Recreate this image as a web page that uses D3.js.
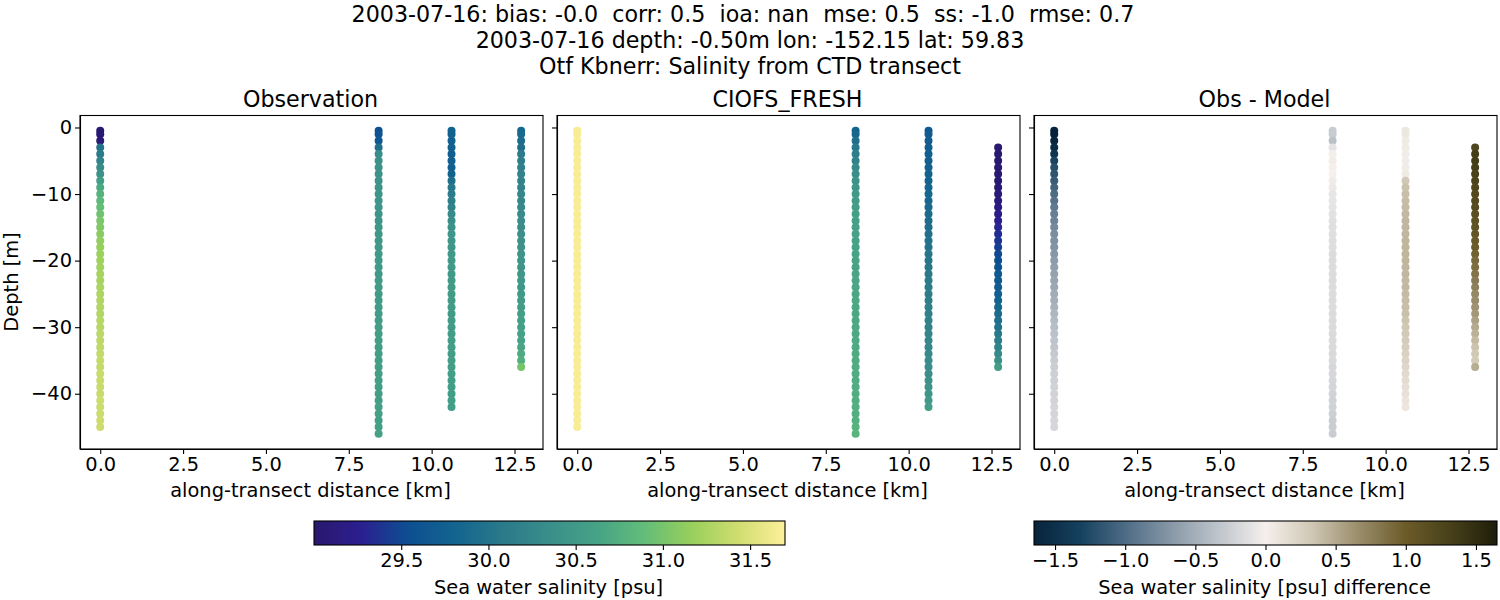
<!DOCTYPE html>
<html>
<head>
<meta charset="utf-8">
<script src="https://cdn.jsdelivr.net/npm/d3@7"></script>
<style>
  html, body { margin: 0; padding: 0; background: #fff; }
  svg text { font-family: "DejaVu Sans", sans-serif; fill: #000; white-space: pre; }
  .domain, .tick line { stroke: #000; stroke-width: 1.1px; }
</style>
</head>
<body>
<svg id="chart" width="1500" height="600"></svg>
<script>
// ============================================
// DATA
// ============================================

const titleLines = [
  '2003-07-16: bias: -0.0  corr: 0.5  ioa: nan  mse: 0.5  ss: -1.0  rmse: 0.7  ',
  '2003-07-16 depth: -0.50m lon: -152.15 lat: 59.83',
  'Otf Kbnerr: Salinity from CTD transect'
];
const panelTitles = ['Observation', 'CIOFS_FRESH', 'Obs - Model'];

const castDistances = [0, 8.4, 10.6, 12.7];
const depthLevels = [-0.5, -1, -2, -3, -4, -5, -6, -7, -8, -9, -10, -11, -12, -13, -14, -15, -16,
  -17, -18, -19, -20, -21, -22, -23, -24, -25, -26, -27, -28, -29, -30, -31, -32, -33, -34, -35,
  -36, -37, -38, -39, -40, -41, -42, -43, -44, -45, -46];

const xTicks = [0, 2.5, 5, 7.5, 10, 12.5];
const yTicks = [0, -10, -20, -30, -40];
const salinityTicks = [29.5, 30, 30.5, 31, 31.5];
const diffTicks = [-1.5, -1, -0.5, 0, 0.5, 1, 1.5];

// values line up with depthLevels, null = no sample at that level
const obsCast1 = [29.05, 29.05, 29.08, 30.0, 30.1, 30.22, 30.32, 30.42, 30.55, 30.68, 30.78, 30.84,
  30.9, 30.96, 31.02, 31.06, 31.1, 31.13, 31.16, 31.19, 31.2, 31.21, 31.23, 31.24, 31.26, 31.27,
  31.28, 31.29, 31.3, 31.31, 31.32, 31.33, 31.34, 31.35, 31.37, 31.38, 31.38, 31.39, 31.39, 31.4,
  31.4, 31.41, 31.41, 31.41, 31.42, 31.42];
const obsCast2 = [29.55, 29.58, 29.65, 29.95, 30.35, 30.4, 30.41, 30.42, 30.42, 30.43, 30.44, 30.44,
  30.45, 30.46, 30.46, 30.47, 30.48, 30.48, 30.49, 30.5, 30.5, 30.51, 30.51, 30.52, 30.52, 30.53,
  30.53, 30.53, 30.54, 30.54, 30.55, 30.55, 30.55, 30.56, 30.56, 30.56, 30.56, 30.57, 30.57, 30.57,
  30.57, 30.57, 30.58, 30.58, 30.58, 30.58, 30.59];
const obsCast3 = [29.8, 29.78, 29.76, 29.75, 29.74, 29.75, 29.76, 29.8, 29.95, 30.05, 30.1, 30.15,
  30.2, 30.3, 30.35, 30.4, 30.45, 30.46, 30.47, 30.48, 30.5, 30.5, 30.5, 30.51, 30.52, 30.52, 30.52,
  30.53, 30.53, 30.53, 30.54, 30.54, 30.55, 30.55, 30.55, 30.55, 30.55, 30.56, 30.56, 30.56, 30.56,
  30.56, 30.56];
const obsCast4 = [29.85, 29.88, 29.92, 29.95, 30.1, 30.15, 30.17, 30.19, 30.2, 30.22, 30.25, 30.27,
  30.29, 30.31, 30.33, 30.35, 30.37, 30.39, 30.41, 30.43, 30.45, 30.46, 30.47, 30.48, 30.49, 30.5,
  30.52, 30.54, 30.56, 30.58, 30.6, 30.61, 30.63, 30.65, 30.7, 30.75, 31.0];

const modelCast1 = [31.66, 31.66, 31.66, 31.66, 31.66, 31.66, 31.66, 31.66, 31.66, 31.66, 31.66,
  31.66, 31.66, 31.66, 31.66, 31.66, 31.66, 31.66, 31.66, 31.66, 31.66, 31.66, 31.66, 31.66, 31.66,
  31.66, 31.66, 31.66, 31.66, 31.66, 31.66, 31.66, 31.66, 31.66, 31.66, 31.66, 31.66, 31.66, 31.66,
  31.66, 31.66, 31.66, 31.66, 31.66, 31.66, 31.66];
const modelCast2 = [29.8, 29.85, 29.95, 30.05, 30.15, 30.2, 30.3, 30.35, 30.4, 30.45, 30.5, 30.52,
  30.55, 30.58, 30.6, 30.61, 30.62, 30.62, 30.63, 30.63, 30.64, 30.64, 30.65, 30.65, 30.66, 30.66,
  30.67, 30.67, 30.68, 30.68, 30.69, 30.69, 30.7, 30.7, 30.71, 30.71, 30.72, 30.72, 30.73, 30.73,
  30.74, 30.74, 30.75, 30.75, 30.76, 30.78, 30.8];
const modelCast3 = [29.65, 29.7, 29.72, 29.73, 29.74, 29.75, 29.77, 29.78, 29.8, 29.82, 29.85, 29.86,
  29.88, 29.9, 29.92, 29.95, 29.97, 29.98, 30.0, 30.02, 30.04, 30.06, 30.08, 30.1, 30.12, 30.14,
  30.15, 30.17, 30.18, 30.2, 30.22, 30.24, 30.26, 30.28, 30.3, 30.32, 30.34, 30.37, 30.4, 30.43,
  30.45, 30.5, 30.55];
const modelCast4 = [null, null, null, 29.03, 29.02, 29.02, 29.03, 29.04, 29.05, 29.07, 29.1, 29.13,
  29.16, 29.2, 29.25, 29.3, 29.35, 29.4, 29.45, 29.5, 29.55, 29.6, 29.65, 29.68, 29.72, 29.75, 29.8,
  29.85, 29.9, 29.95, 30.0, 30.07, 30.13, 30.2, 30.3, 30.4, 30.55];

const diffCast1 = [-1.65, -1.65, -1.62, -1.55, -1.45, -1.3, -1.22, -1.17, -1.12, -1.06, -1.0, -0.95,
  -0.9, -0.86, -0.82, -0.78, -0.75, -0.72, -0.7, -0.68, -0.64, -0.62, -0.6, -0.57, -0.55, -0.52,
  -0.5, -0.47, -0.44, -0.41, -0.38, -0.36, -0.34, -0.32, -0.3, -0.28, -0.26, -0.25, -0.24, -0.23,
  -0.22, -0.22, -0.21, -0.21, -0.2, -0.2];
const diffCast2 = [-0.28, -0.28, -0.36, -0.1, 0.02, 0.03, 0.01, 0.0, -0.03, -0.05, -0.08, -0.09,
  -0.1, -0.11, -0.12, -0.13, -0.13, -0.14, -0.14, -0.15, -0.15, -0.15, -0.15, -0.15, -0.15, -0.15,
  -0.15, -0.15, -0.16, -0.16, -0.16, -0.16, -0.17, -0.17, -0.18, -0.18, -0.19, -0.19, -0.2, -0.21,
  -0.22, -0.23, -0.24, -0.25, -0.26, -0.27, -0.27];
const diffCast3 = [0.07, 0.07, 0.05, 0.04, 0.03, 0.03, 0.03, 0.05, 0.32, 0.36, 0.38, 0.39, 0.4, 0.41,
  0.42, 0.42, 0.42, 0.43, 0.43, 0.43, 0.43, 0.42, 0.42, 0.41, 0.41, 0.4, 0.39, 0.38, 0.37, 0.35,
  0.33, 0.31, 0.29, 0.27, 0.25, 0.23, 0.2, 0.18, 0.16, 0.14, 0.12, 0.1, 0.08];
const diffCast4 = [null, null, null, 1.25, 1.35, 1.34, 1.33, 1.3, 1.28, 1.25, 1.22, 1.2, 1.18, 1.15,
  1.12, 1.1, 1.07, 1.03, 1.0, 0.95, 0.9, 0.87, 0.83, 0.79, 0.75, 0.7, 0.67, 0.63, 0.6, 0.55, 0.5,
  0.45, 0.4, 0.35, 0.32, 0.3, 0.48];

const obsCasts = [obsCast1, obsCast2, obsCast3, obsCast4];
const modelCasts = [modelCast1, modelCast2, modelCast3, modelCast4];
const diffCasts = [diffCast1, diffCast2, diffCast3, diffCast4];

// cmocean haline / diff, sampled by eye
const halineStops = ['#29186c', '#2b1f90', '#0d4f92', '#13648f', '#2a7a8a', '#3a8e8a', '#46a286',
  '#62bd79', '#97cf5c', '#d0dd70', '#fdf09a'];
const diffStops = ['#07233b', '#15415f', '#4f6d86', '#8a9aa9', '#bfc5cc', '#f5f0ed', '#d0c7b4',
  '#9a8e6c', '#6d5c2a', '#474019', '#1d1e0a'];

// ============================================
// SCALES AND LAYOUT
// ============================================

const salinityDomain = [29.0, 31.7];
const diffDomain = [-1.65, 1.65];

function makeColorScale(domain, stops) {
  return d3.scaleLinear()
    .domain(stops.map((_, i) => domain[0] + (domain[1] - domain[0]) * i / (stops.length - 1)))
    .range(stops)
    .clamp(true);
}

const salinityColor = makeColorScale(salinityDomain, halineStops);
const diffColor = makeColorScale(diffDomain, diffStops);

const panels = [
  { left: 80, casts: obsCasts, color: salinityColor },
  { left: 557, casts: modelCasts, color: salinityColor },
  { left: 1034, casts: diffCasts, color: diffColor }
];
const panelWidth = 463;
const panelTop = 115.5;
const panelBottom = 449;
const labelSize = '19.4px';
const titleSize = '22.2px';

const svg = d3.select('#chart');

titleLines.forEach((line, i) => {
  svg.append('text')
    .attr('x', 750)
    .attr('y', 22 + i * 26)
    .attr('text-anchor', 'middle')
    .style('font-size', titleSize)
    .text(line);
});

// ============================================
// PANELS
// ============================================

const y = d3.scaleLinear().domain([1.8, -48.3]).range([panelTop, panelBottom]);

panels.forEach((panel, p) => {
  const x = d3.scaleLinear().domain([-0.61, 13.36]).range([panel.left, panel.left + panelWidth]);
  const g = svg.append('g');

  panel.casts.forEach((values, c) => {
    const samples = values
      .map((value, i) => ({ value, depth: depthLevels[i] }))
      .filter(d => d.value !== null);
    g.append('g').selectAll('circle')
      .data(samples)
      .join('circle')
      .attr('cx', x(castDistances[c]))
      .attr('cy', d => y(d.depth))
      .attr('r', 4)
      .attr('fill', d => panel.color(d.value));
  });

  const xAxis = d3.axisBottom(x).tickValues(xTicks).tickFormat(d3.format('.1f'))
    .tickSize(5).tickSizeOuter(0);
  const yAxis = d3.axisLeft(y).tickValues(yTicks).tickSize(5).tickSizeOuter(0);
  if (p > 0) yAxis.tickFormat('');

  const xg = g.append('g').attr('transform', `translate(0,${panelBottom})`).call(xAxis);
  const yg = g.append('g').attr('transform', `translate(${panel.left},0)`).call(yAxis);
  xg.selectAll('text').attr('font-family', null).attr('y', 8).style('font-size', labelSize);
  yg.selectAll('text').attr('font-family', null).attr('x', -8).style('font-size', labelSize);

  g.append('rect')
    .attr('x', panel.left).attr('y', panelTop)
    .attr('width', panelWidth).attr('height', panelBottom - panelTop)
    .attr('fill', 'none').attr('stroke', '#000').attr('stroke-width', 1.1);

  g.append('text')
    .attr('x', panel.left + panelWidth / 2 - 1).attr('y', 107)
    .attr('text-anchor', 'middle')
    .style('font-size', titleSize)
    .text(panelTitles[p]);

  g.append('text')
    .attr('x', panel.left + panelWidth / 2 - 1).attr('y', 497)
    .attr('text-anchor', 'middle')
    .style('font-size', labelSize)
    .text('along-transect distance [km]');
});

svg.append('text')
  .attr('transform', 'translate(18,282) rotate(-90)')
  .attr('text-anchor', 'middle')
  .style('font-size', labelSize)
  .text('Depth [m]');

// ============================================
// COLORBARS
// ============================================

function drawColorbar(id, left, right, domain, stops, ticks, label) {
  const top = 521;
  const height = 24;
  const scale = d3.scaleLinear().domain(domain).range([left, right]);

  const grad = svg.append('defs').append('linearGradient').attr('id', id);
  stops.forEach((color, i) => {
    grad.append('stop').attr('offset', i / (stops.length - 1)).attr('stop-color', color);
  });

  svg.append('rect')
    .attr('x', left).attr('y', top).attr('width', right - left).attr('height', height)
    .attr('fill', `url(#${id})`).attr('stroke', '#000').attr('stroke-width', 1.1);

  const axis = d3.axisBottom(scale).tickValues(ticks).tickFormat(d3.format('.1f'))
    .tickSize(5).tickSizeOuter(0);
  const ag = svg.append('g').attr('transform', `translate(0,${top + height})`).call(axis);
  ag.select('.domain').remove();
  ag.selectAll('text').attr('font-family', null).attr('y', 8).style('font-size', labelSize);

  svg.append('text')
    .attr('x', (left + right) / 2 - 1).attr('y', 594)
    .attr('text-anchor', 'middle')
    .style('font-size', labelSize)
    .text(label);
}

drawColorbar('haline-grad', 314, 785, salinityDomain, halineStops, salinityTicks, 'Sea water salinity [psu]');
drawColorbar('diff-grad', 1034, 1497, diffDomain, diffStops, diffTicks, 'Sea water salinity [psu] difference');
</script>
</body>
</html>
